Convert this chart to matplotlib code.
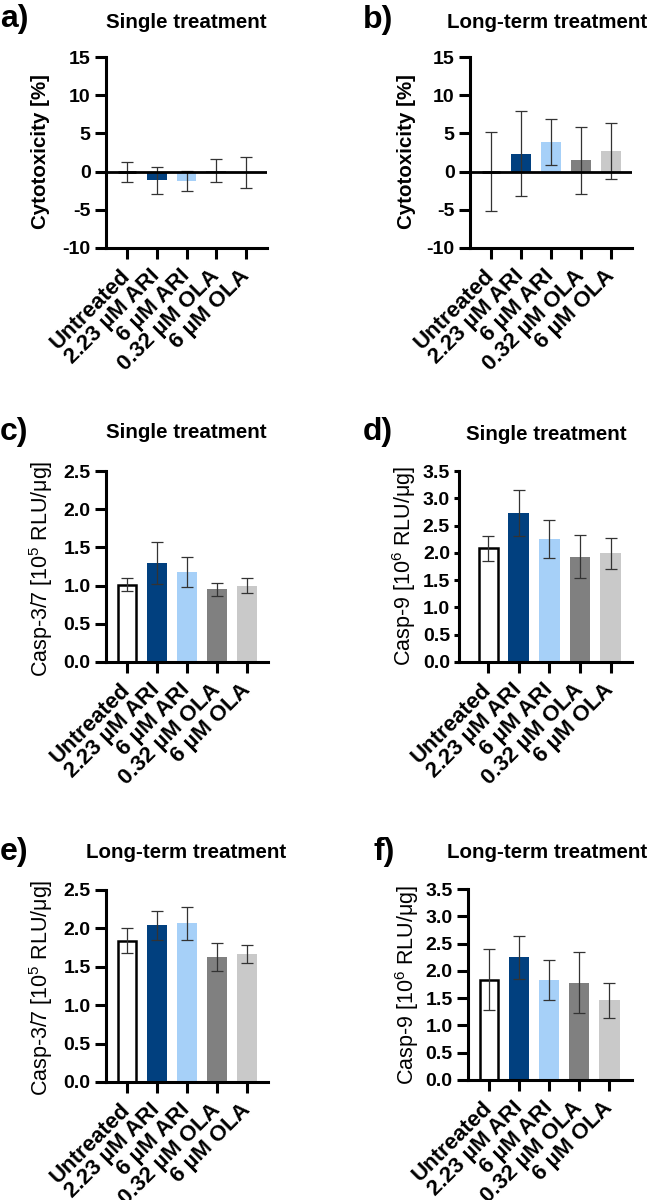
import matplotlib
matplotlib.use("Agg")
import matplotlib.pyplot as plt
from matplotlib.transforms import ScaledTranslation

plt.rcParams['font.family'] = ['Liberation Sans', 'DejaVu Sans']
plt.rcParams['mathtext.fontset'] = 'custom'
plt.rcParams['mathtext.rm'] = 'Liberation Sans'

# Daten
categories = ['Untreated', '2.23 µM ARI', '6 µM ARI', '0.32 µM OLA', '6 µM OLA']
bar_colors = ['white', '#01407F', '#A6D0F8', '#808080', '#C9C9C9']

cyto_single = [0.0, -1.12, -1.22, 0.1, -0.1]
cyto_single_err = [1.3, 1.76, 1.36, 1.5, 2.05]
cyto_long = [0.0, 2.33, 3.92, 1.5, 2.7]
cyto_long_err = [5.17, 5.55, 3.0, 4.4, 3.7]

casp37_single = [1.01, 1.295, 1.18, 0.95, 1.0]
casp37_single_err = [0.087, 0.275, 0.195, 0.087, 0.1]
casp9_single = [2.08, 2.73, 2.26, 1.93, 1.995]
casp9_single_err = [0.225, 0.42, 0.35, 0.39, 0.285]

casp37_long = [1.84, 2.04, 2.065, 1.63, 1.665]
casp37_long_err = [0.16, 0.19, 0.22, 0.185, 0.12]
casp9_long = [1.835, 2.245, 1.83, 1.785, 1.46]
casp9_long_err = [0.56, 0.4, 0.37, 0.565, 0.325]

cyto_ticks = [-10, -5, 0, 5, 10, 15]
casp37_ticks = [0.0, 0.5, 1.0, 1.5, 2.0, 2.5]
casp9_ticks = [0.0, 0.5, 1.0, 1.5, 2.0, 2.5, 3.0, 3.5]

W, H = 655, 1200
fig = plt.figure(figsize=(W / 100, H / 100), dpi=100)

FS_X = 16      # x tick labels
FS_Y = 14      # y tick labels
FS_T = 14.8    # titles


def add_ax(x0, x1, ytop, ybot):
    return fig.add_axes([x0 / W, 1 - ybot / H, (x1 - x0) / W, (ybot - ytop) / H])


def draw_panel(ax, vals, errs, ylim, yticks, fmt, xlim=(-0.7, 4.7), zero_line=False, ytick_len=8):
    x = list(range(len(vals)))
    for i, (v, c) in enumerate(zip(vals, bar_colors)):
        if c == 'white':
            ax.bar(i, v, width=0.62, color='white', edgecolor='black', linewidth=1.8, zorder=2)
        else:
            ax.bar(i, v, width=0.67, color=c, linewidth=0, zorder=2)
    ax.errorbar(x, vals, yerr=errs, fmt='none', ecolor='#333333', elinewidth=0.9,
                capsize=4, capthick=0.9, zorder=4)
    if zero_line:
        ax.axhline(0, color='black', linewidth=2.0, zorder=5)
    ax.set_xlim(*xlim)
    ax.set_ylim(*ylim)
    ax.set_yticks(yticks)
    ax.set_yticklabels([fmt.format(t) for t in yticks], fontsize=FS_Y, fontweight='bold')
    ax.set_xticks(x)
    ax.set_xticklabels(categories, rotation=45, ha='right', va='center',
                       rotation_mode='anchor', fontsize=FS_X, fontweight='bold')
    shift = ScaledTranslation(5 / 100, 0, fig.dpi_scale_trans)
    for lab in ax.get_xticklabels():
        lab.set_transform(lab.get_transform() + shift)
    ax.spines['top'].set_visible(False)
    ax.spines['right'].set_visible(False)
    ax.spines['left'].set_linewidth(2.2)
    ax.spines['bottom'].set_linewidth(2.2)
    ax.tick_params(axis='x', width=2.2, length=8, pad=10)
    ax.tick_params(axis='y', width=2.2, length=ytick_len, pad=3)


# a) Single treatment, Zytotoxizität
ax_a = add_ax(106, 267, 57, 248)
draw_panel(ax_a, cyto_single, cyto_single_err, (-10, 15), cyto_ticks, '{:.0f}', zero_line=True)

# b) Long-term, Zytotoxizität
ax_b = add_ax(470, 632, 57, 248)
draw_panel(ax_b, cyto_long, cyto_long_err, (-10, 15), cyto_ticks, '{:.0f}', zero_line=True)

# c) Casp-3/7 single
ax_c = add_ax(106, 268, 471, 662)
draw_panel(ax_c, casp37_single, casp37_single_err, (0, 2.5), casp37_ticks, '{:.1f}')

# d) Casp-9 single
ax_d = add_ax(459, 632, 471, 662)
draw_panel(ax_d, casp9_single, casp9_single_err, (0, 3.5), casp9_ticks, '{:.1f}',
           xlim=(-0.95, 4.7), ytick_len=3.5)

# e) Casp-3/7 long-term
ax_e = add_ax(106, 268, 890, 1082)
draw_panel(ax_e, casp37_long, casp37_long_err, (0, 2.5), casp37_ticks, '{:.1f}')

# f) Casp-9 long-term
ax_f = add_ax(468, 632, 889, 1080)
draw_panel(ax_f, casp9_long, casp9_long_err, (0, 3.5), casp9_ticks, '{:.1f}',
           xlim=(-0.7, 4.75))


# Beschriftungen (Pixelpositionen)
def ftext(px, py, s, **kw):
    fig.text(px / W, 1 - py / H, s, **kw)


casp37_lab = r'Casp-3/7 [10$^{5}$ RLU/μg]'
casp9_lab = r'Casp-9 [10$^{6}$ RLU/μg]'

ylabels = [(41, 152, 'Cytotoxicity [%]', 'bold', 14.8),
           (407, 152, 'Cytotoxicity [%]', 'bold', 14.8),
           (41, 569, casp37_lab, 'normal', 15.5),
           (404, 566, casp9_lab, 'normal', 15.5),
           (41, 988, casp37_lab, 'normal', 15.5),
           (407, 985, casp9_lab, 'normal', 15.5)]
for px, py, s, wgt, fs in ylabels:
    ftext(px, py, s, rotation=90, ha='center', va='center', fontsize=fs, fontweight=wgt)

titles = [(186, 22, 'Single treatment'), (547, 22, 'Long-term treatment'),
          (186, 433, 'Single treatment'), (546, 434, 'Single treatment'),
          (186, 853, 'Long-term treatment'), (547, 853, 'Long-term treatment')]
for px, py, s in titles:
    ftext(px, py, s, ha='center', va='center', fontsize=FS_T, fontweight='bold')

letters = [(0, 19, 'a)'), (363, 20, 'b)'), (0, 432, 'c)'), (363, 432, 'd)'),
           (0, 852, 'e)'), (373, 852, 'f)')]
for px, py, s in letters:
    ftext(px, py, s, ha='left', va='center', fontsize=23, fontweight='bold')

fig.savefig('out.png', dpi=100, facecolor='white')
